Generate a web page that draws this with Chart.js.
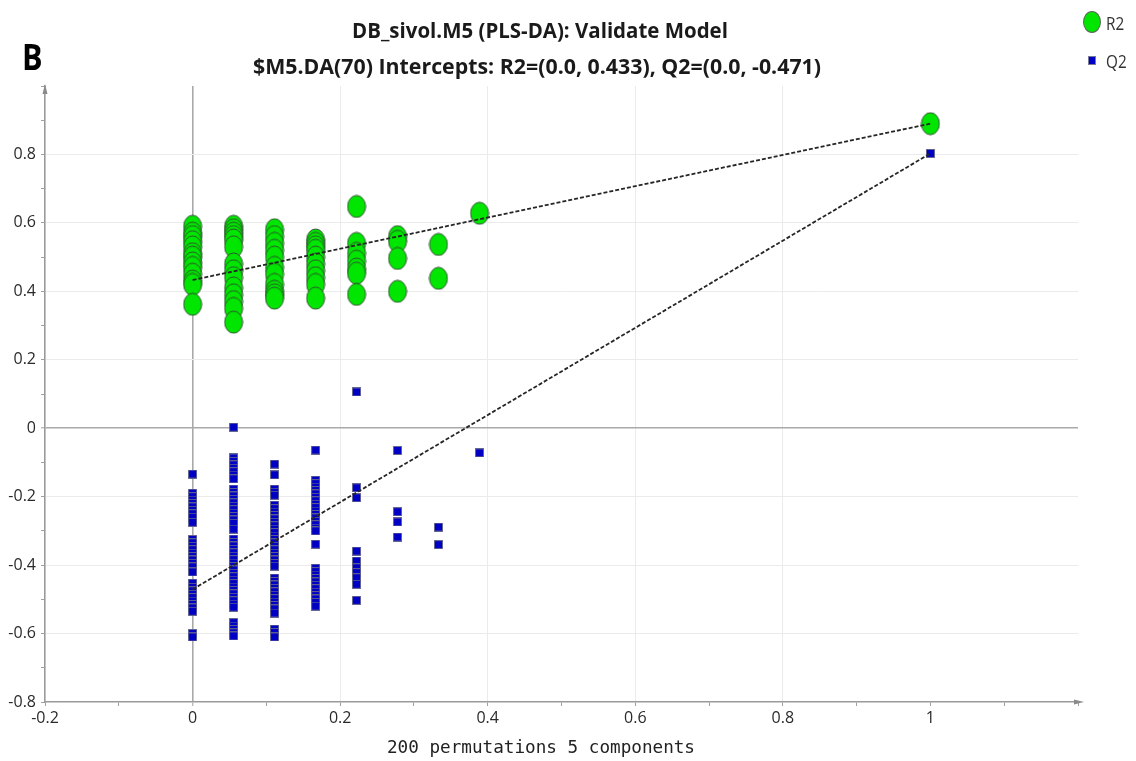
<!DOCTYPE html>
<html><head><meta charset="utf-8">
<script src="https://cdn.jsdelivr.net/npm/chart.js@4.4.1/dist/chart.umd.min.js"></script>
<style>
html,body{margin:0;padding:0;background:#fff;}
#wrap{position:relative;width:1136px;height:761px;overflow:hidden;background:#fff;}
canvas{position:absolute;left:0;top:0;}
.t{position:absolute;white-space:nowrap;font-family:"Open Sans",sans-serif;color:#1a1a1a;line-height:1;}
#panel{left:22px;top:57px;font-size:36px;font-weight:700;color:#000;transform:translate(0,-50%) scaleX(0.85);transform-origin:left center;}
#title1{left:540px;top:29px;font-size:22px;font-weight:700;transform:translate(-50%,-50%) scaleX(0.93);}
#title2{left:537px;top:65px;font-size:22px;font-weight:700;transform:translate(-50%,-50%) scaleX(0.97);}
#xlabel{left:541px;top:747px;font-family:"DejaVu Sans Mono",monospace;font-size:18px;color:#222;transform:translate(-50%,-50%) scaleX(0.98);}
.lg{position:absolute;font-family:"Open Sans",sans-serif;font-size:18px;color:#333;line-height:1;transform:translate(0,-50%) scaleX(0.85);transform-origin:left center;white-space:nowrap;}
.sw{position:absolute;box-sizing:border-box;}
</style></head><body>
<div id="wrap">
<canvas id="c" width="1136" height="761"></canvas>
<div class="t" id="panel">B</div>
<div class="t" id="title1">DB_sivol.M5 (PLS-DA): Validate Model</div>
<div class="t" id="title2">$M5.DA(70) Intercepts: R2=(0.0, 0.433), Q2=(0.0, -0.471)</div>
<div class="t" id="xlabel">200 permutations 5 components</div>
<div class="sw" style="left:1083px;top:11px;width:18px;height:22px;border-radius:50%;background:#00e600;border:1px solid #5a6a5a;"></div>
<div class="lg" style="left:1106px;top:23px;">R2</div>
<div class="sw" style="left:1088px;top:56px;width:8px;height:9px;background:#0000c4;border:1px solid #7a7a9a;"></div>
<div class="lg" style="left:1106px;top:61px;">Q2</div>
</div>
<script>
// permuted-correlation positions (x) of the permutation columns
const permX = [0, 0.0556, 0.1111, 0.1667, 0.2222, 0.2778, 0.3333, 0.3889];
// R2 values per column
const r2At0 = [0.59, 0.57, 0.56, 0.545, 0.53, 0.51, 0.50, 0.483, 0.47, 0.45, 0.43, 0.42, 0.362];
const r2At1 = [0.59, 0.58, 0.57, 0.56, 0.55, 0.53, 0.48, 0.46, 0.44, 0.41, 0.39, 0.37, 0.35, 0.31];
const r2At2 = [0.58, 0.56, 0.54, 0.52, 0.50, 0.47, 0.45, 0.42, 0.40, 0.39, 0.38];
const r2At3 = [0.55, 0.54, 0.53, 0.52, 0.50, 0.48, 0.46, 0.44, 0.42, 0.38];
const r2At4 = [0.648, 0.54, 0.511, 0.488, 0.465, 0.453, 0.391];
const r2At5 = [0.56, 0.546, 0.496, 0.40];
const r2At6 = [0.537, 0.438];
const r2At7 = [0.628];
// Q2 values per column
const q2At0 = [-0.134, -0.19, -0.20, -0.21, -0.22, -0.23, -0.24, -0.25, -0.26, -0.275,
  -0.325, -0.335, -0.345, -0.355, -0.365, -0.375, -0.385, -0.395, -0.405, -0.42,
  -0.453, -0.465, -0.475, -0.485, -0.495, -0.505, -0.515, -0.525, -0.535, -0.60, -0.61];
const q2At1 = [0.003, -0.087, -0.097, -0.107, -0.117, -0.127, -0.137, -0.148,
  -0.178, -0.188, -0.198, -0.208, -0.218, -0.228, -0.238, -0.248, -0.258, -0.268, -0.278, -0.295,
  -0.324, -0.334, -0.344, -0.354, -0.364, -0.374, -0.384, -0.394, -0.404, -0.414, -0.424,
  -0.434, -0.444, -0.454, -0.464, -0.474, -0.484, -0.494, -0.504, -0.514, -0.523,
  -0.568, -0.578, -0.588, -0.598, -0.607];
const q2At2 = [-0.105, -0.136, -0.178, -0.187, -0.196,
  -0.225, -0.235, -0.245, -0.255, -0.265, -0.275, -0.285, -0.295, -0.305, -0.315,
  -0.325, -0.335, -0.345, -0.355, -0.365, -0.375, -0.385, -0.395, -0.403,
  -0.438, -0.448, -0.458, -0.468, -0.478, -0.488, -0.498, -0.508, -0.518, -0.528, -0.54,
  -0.587, -0.597, -0.61];
const q2At3 = [-0.064, -0.152, -0.162, -0.172, -0.182, -0.192, -0.202, -0.212, -0.222,
  -0.232, -0.242, -0.252, -0.262, -0.272, -0.282, -0.292, -0.30, -0.339,
  -0.409, -0.419, -0.429, -0.439, -0.449, -0.459, -0.469, -0.479, -0.489, -0.499, -0.509, -0.52];
const q2At4 = [0.106, -0.174, -0.203, -0.359, -0.388, -0.408, -0.422, -0.437, -0.456, -0.503];
const q2At5 = [-0.065, -0.244, -0.274, -0.318];
const q2At6 = [-0.289, -0.34];
const q2At7 = [-0.072];
// original model and regression intercepts
const modelX = 1;
const r2Model = 0.89;
const q2Model = 0.803;
const r2Intercept = 0.433;
const q2Intercept = -0.471;

const r2Cols = [r2At0, r2At1, r2At2, r2At3, r2At4, r2At5, r2At6, r2At7];
const q2Cols = [q2At0, q2At1, q2At2, q2At3, q2At4, q2At5, q2At6, q2At7];
function toPoints(cols, modelY) {
  const pts = [];
  cols.forEach((col, i) => col.forEach(v => pts.push({x: permX[i], y: v})));
  pts.push({x: modelX, y: modelY});
  return pts;
}
const r2Points = toPoints(r2Cols, r2Model);
const q2Points = toPoints(q2Cols, q2Model);

function ellipseImg(w, h, fill, stroke) {
  const c = document.createElement('canvas');
  c.width = w + 2; c.height = h + 2;
  const g = c.getContext('2d');
  g.beginPath();
  g.ellipse((w + 2) / 2, (h + 2) / 2, w / 2, h / 2, 0, 0, Math.PI * 2);
  g.fillStyle = fill; g.fill();
  g.lineWidth = 1; g.strokeStyle = stroke; g.stroke();
  return c;
}
function rectImg(w, h, fill, stroke) {
  const c = document.createElement('canvas');
  c.width = w + 1; c.height = h + 1;
  const g = c.getContext('2d');
  g.fillStyle = fill; g.fillRect(0.5, 0.5, w, h);
  g.lineWidth = 1; g.strokeStyle = stroke; g.strokeRect(0.5, 0.5, w, h);
  return c;
}
const greenDot = ellipseImg(18, 22, '#00e600', 'rgba(50,70,50,0.9)');
const blueSq = rectImg(8, 8, '#0000c4', 'rgba(100,100,140,0.9)');

function fmt(k) {
  if (k === 0) return '0';
  if (k === 10) return '1';
  return String(k / 10);
}
function gridColor(ctx) {
  const k = Math.round(ctx.tick.value * 10);
  if (k === 0) return '#a9a9a9';
  if (k % 2 === 0 && k < 10 && k > -8) return '#ebebeb';
  return 'rgba(0,0,0,0)';
}
function gridWidth(ctx) {
  return Math.round(ctx.tick.value * 10) === 0 ? 1.6 : 1;
}

const arrowPlugin = {
  id: 'arrows',
  afterDraw(chart) {
    const a = chart.chartArea, g = chart.ctx;
    g.save();
    g.fillStyle = '#8a8a8a';
    g.beginPath();
    g.moveTo(a.left, a.top - 2); g.lineTo(a.left - 2.5, a.top + 8); g.lineTo(a.left + 2.5, a.top + 8);
    g.closePath(); g.fill();
    g.beginPath();
    g.moveTo(a.right + 6, a.bottom); g.lineTo(a.right - 4, a.bottom - 2.5); g.lineTo(a.right - 4, a.bottom + 2.5);
    g.closePath(); g.fill();
    g.restore();
  }
};

const tickFont = {family: '"Open Sans", sans-serif', size: 16};

new Chart(document.getElementById('c'), {
  type: 'scatter',
  data: {
    datasets: [
      {label: 'R2 fit', data: [{x: 0, y: r2Intercept}, {x: modelX, y: r2Model}], showLine: true,
       borderColor: '#262626', borderWidth: 1.8, borderDash: [4, 2], pointRadius: 0, order: 0},
      {label: 'Q2 fit', data: [{x: 0, y: q2Intercept}, {x: modelX, y: q2Model}], showLine: true,
       borderColor: '#262626', borderWidth: 1.8, borderDash: [4, 2], pointRadius: 0, order: 0},
      {label: 'R2', data: r2Points, pointStyle: greenDot, pointRadius: 10, order: 1},
      {label: 'Q2', data: q2Points, pointStyle: blueSq, pointRadius: 4, order: 1}
    ]
  },
  options: {
    responsive: false,
    animation: false,
    devicePixelRatio: 1,
    layout: {padding: {top: 86, right: 58, left: 0, bottom: 0}},
    plugins: {legend: {display: false}, tooltip: {enabled: false}, title: {display: false}},
    scales: {
      x: {
        type: 'linear', min: -0.2, max: 1.2,
        afterFit: s => { s.height = 59; },
        border: {display: true, color: '#9a9a9a', width: 1.5},
        grid: {color: gridColor, lineWidth: gridWidth, tickColor: '#a0a0a0', tickLength: 4, tickWidth: 1},
        ticks: {stepSize: 0.1, autoSkip: false, maxRotation: 0, padding: 3, color: '#2a2a2a', font: tickFont,
                callback: v => { const k = Math.round(v * 10); return (k % 2 === 0 && k <= 10) ? fmt(k) : ''; }}
      },
      y: {
        type: 'linear', min: -0.8, max: 1.0,
        afterFit: s => { s.width = 45; },
        border: {display: true, color: '#9a9a9a', width: 1.5},
        grid: {color: gridColor, lineWidth: gridWidth, tickColor: '#a0a0a0', tickLength: 4, tickWidth: 1},
        ticks: {stepSize: 0.1, autoSkip: false, padding: 5, color: '#2a2a2a', font: tickFont,
                callback: v => { const k = Math.round(v * 10); return (k % 2 === 0 && k <= 8) ? fmt(k) : ''; }}
      }
    }
  },
  plugins: [arrowPlugin]
});
</script>
</body></html>
